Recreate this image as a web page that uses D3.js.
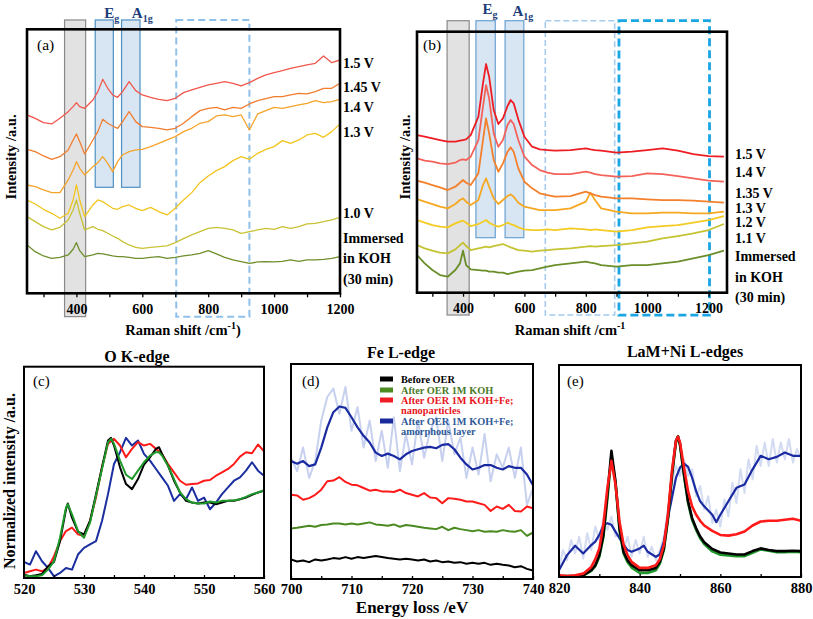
<!DOCTYPE html>
<html><head><meta charset="utf-8">
<script src="https://cdn.jsdelivr.net/npm/d3@7/dist/d3.min.js"></script>
<style>html,body{margin:0;padding:0;background:#fff}</style>
</head><body>
<svg id="chart" width="813" height="619" xmlns="http://www.w3.org/2000/svg"></svg>
<script>
const SERIF = "'Liberation Serif','Times New Roman',serif";

// ---------- Panel (a): Raman spectra ----------
const ramanXA = [250,275,300,325,350,375,390,400,410,425,450,465,480,495,510,525,540,560,580,600,625,650,675,700,725,750,775,800,825,850,875,900,925,950,975,1000,1025,1050,1075,1100,1125,1150,1175,1200];
const a_15  = [535,525,512,508,525,545,560,572,560,555,580,605,642,615,595,588,605,635,608,595,588,582,578,585,602,610,618,625,630,635,630,622,632,645,655,662,668,675,680,685,690,712,692,700];
const a_145 = [432,425,412,402,410,430,460,478,455,418,460,485,522,510,502,495,515,545,515,500,498,495,490,495,510,530,548,555,558,550,558,555,568,578,584,590,590,595,600,598,605,615,615,630];
const a_14  = [325,320,310,302,302,340,370,395,375,355,380,392,410,390,365,395,415,425,430,432,440,450,460,470,485,495,510,515,532,535,530,535,490,538,548,558,555,560,565,570,578,572,575,582];
const a_13  = [280,268,252,240,225,240,280,325,280,230,265,280,275,265,255,252,260,265,255,248,258,245,235,255,280,302,332,352,368,380,398,410,402,420,432,440,458,450,460,475,480,468,485,508];
const a_10  = [230,215,200,190,198,220,250,280,240,190,200,192,188,180,172,165,155,145,138,135,138,140,142,152,164,175,185,195,198,195,190,180,185,190,195,192,200,195,200,208,210,215,220,228];
const a_imm = [145,125,112,105,108,115,132,152,128,110,115,120,118,115,112,110,110,108,105,105,108,110,105,108,112,115,120,128,118,108,100,95,90,94,95,94,96,100,96,100,100,102,105,110];
const labelsA = ["1.5 V","1.45 V","1.4 V","1.3 V","1.0 V"];
const ticksA = [300,400,500,600,700,800,900,1000,1100,1200];
const tickLabelsA = [400,600,800,1000,1200];
// annotation bands [x0,x1] (cm-1)
const bandsA = {gray:[364,428], eg:[457,512], a1g:[537,593], dash:[703,925]};

// ---------- Panel (b): Raman spectra ----------
const ramanXB = [250,275,300,325,350,375,390,400,410,425,450,465,475,485,500,515,530,545,555,565,580,600,625,650,675,700,750,800,815,830,850,900,950,1000,1050,1100,1150,1200,1250];
const b_15  = [473,468,463,458,453,453,456,458,460,473,528,628,686,648,548,506,523,560,578,568,520,468,438,430,428,426,428,433,430,428,426,420,423,428,433,426,416,410,408];
const b_14  = [403,396,393,388,386,390,398,400,398,408,458,558,623,583,478,438,458,503,518,506,458,408,383,368,360,356,356,363,360,356,353,348,350,358,356,350,343,336,333];
const b_135 = [336,330,323,316,308,318,330,338,330,323,358,458,523,478,398,363,388,423,436,423,373,333,313,298,293,288,290,303,298,293,288,283,283,280,278,278,276,273,270];
const b_13  = [281,273,266,258,253,266,278,283,273,263,278,323,343,318,283,266,278,290,295,288,270,258,253,248,248,248,253,273,300,278,253,243,238,238,240,240,238,238,243];
const b_12  = [218,210,203,198,196,208,213,216,210,200,206,213,218,210,203,198,203,210,206,203,196,190,188,188,190,188,193,190,188,190,188,183,188,196,200,203,210,218,230];
const b_11  = [143,133,126,120,118,130,143,150,140,128,133,136,138,136,140,143,146,140,136,133,128,126,123,126,128,130,133,138,140,138,140,143,148,153,163,170,178,188,206];
const b_imm = [113,88,68,53,48,68,88,126,83,70,68,66,66,63,63,60,60,56,58,60,63,66,68,73,78,83,88,93,90,88,83,78,83,83,88,93,103,113,126];
const labelsB = ["1.5 V","1.4 V","1.35 V","1.3 V","1.2 V","1.1 V"];
const ticksB = [300,400,500,600,700,800,900,1000,1100,1200];
const tickLabelsB = [400,600,800,1000,1200];
const bandsB = {gray:[348,420], eg:[442,505], a1g:[537,598], dash1:[668,894], dash2:[908,1203]};

// ---------- Panel (c): O K-edge ----------
const c_before = [[520,10],[521,5],[522,8],[523,12],[524,35],[525,48],[526,110],[527,205],[527.3,222],[528,180],[529,138],[530,130],[531,170],[532,250],[533,330],[534,410],[534.5,418],[535,395],[536,330],[537,280],[538,265],[539,295],[540,338],[541,360],[542,385],[542.5,390],[543,370],[544,335],[545,290],[546,255],[547,230],[548,225],[549,222],[550,225],[551,225],[552,220],[553,225],[554,230],[555,230],[556,235],[557,240],[558,248],[559,255],[560,260]];
const c_koh = [[520,8],[521,5],[522,5],[523,8],[524,25],[525,50],[526,120],[527,210],[527.3,220],[528,190],[529,140],[530,120],[531,165],[532,245],[533,325],[534,405],[534.5,415],[535,400],[536,350],[537,308],[538,295],[539,320],[540,345],[541,365],[542,375],[542.5,375],[543,365],[544,335],[545,295],[546,255],[547,235],[548,225],[549,222],[550,222],[551,228],[552,225],[553,230],[554,230],[555,232],[556,235],[557,242],[558,250],[559,255],[560,262]];
const c_nano = [[520,15],[521,20],[522,25],[523,20],[524,30],[525,65],[526,110],[527,140],[528,150],[529,130],[530,125],[531,170],[532,240],[533,330],[534,400],[535,415],[536,395],[537,360],[538,385],[539,405],[540,395],[541,400],[542,385],[543,370],[544,340],[545,315],[546,290],[547,278],[548,280],[549,282],[550,290],[551,292],[552,305],[553,315],[554,325],[555,340],[556,362],[557,375],[558,372],[559,398],[560,378]];
const c_amor = [[520,48],[521,40],[522,80],[523,50],[524,30],[525,5],[526,15],[527,30],[528,25],[529,70],[530,90],[531,100],[532,110],[533,170],[534,250],[535,340],[536,375],[537,418],[538,395],[539,410],[540,370],[541,350],[542,325],[543,300],[544,275],[545,230],[546,250],[547,235],[548,270],[549,230],[550,240],[551,205],[552,225],[553,250],[554,270],[555,290],[556,300],[557,320],[558,345],[559,320],[560,305]];
const c_amorBase = [[525,0],[560,0]];
const ticksC = [520,525,530,535,540,545,550,555,560];
const tickLabelsC = [520,530,540,550,560];

// ---------- Panel (d): Fe L-edge ----------
const eelsXD = [700,701,702,703,704,705,706,707,708,709,710,711,712,713,714,715,716,717,718,719,720,721,722,723,724,725,726,727,728,729,730,731,732,733,734,735,736,737,738,739,740];
const d_amorRaw = [360,320,390,300,350,470,540,565,490,570,440,510,390,470,350,440,330,480,320,430,340,470,360,440,480,350,470,370,420,300,390,310,430,290,370,330,390,300,390,220,270];
const d_amor = [350,342,350,335,340,390,450,495,512,508,480,450,425,405,375,365,372,365,355,370,380,385,390,392,388,398,400,385,360,340,325,330,338,338,330,325,335,330,330,310,278];
const d_nano = [250,248,235,240,250,265,290,292,302,288,280,278,270,262,265,260,260,258,265,255,250,245,255,242,240,225,240,238,235,230,230,225,220,202,215,208,220,202,200,215,210];
const d_koh = [150,152,155,158,155,160,162,165,165,162,165,162,165,168,162,160,158,162,155,160,158,155,152,150,148,155,145,152,148,145,142,145,140,142,140,145,142,140,145,128,138];
const d_before = [58,52,55,50,58,55,58,62,60,65,60,65,62,65,68,65,62,60,58,60,58,55,58,52,55,50,52,48,50,45,48,45,48,42,45,42,40,35,38,30,25];
const ticksD = [700,705,710,715,720,725,730,735,740];
const tickLabelsD = [700,710,720,730,740];
const legendNames = [["Before OER"],["After OER 1M KOH"],["After OER 1M KOH+Fe;","nanoparticles"],["After OER 1M KOH+Fe;","amorphous layer"]];

// ---------- Panel (e): La M + Ni L-edges ----------
const eelsXE = [820,822,824,826,828,829,830,831,832,833,834,835,836,837,838,840,842,844,845,846,847,848,849,849.5,850,851,852,853,854,855,856,858,860,862,864,866,868,870,872,874,876,878,880];
const e_before = [3,3,3,5,20,35,65,125,245,375,285,145,75,50,35,20,20,27,45,85,175,305,405,417,395,305,225,175,145,120,103,83,73,70,67,67,77,85,80,77,77,78,77];
const e_koh = [2,2,2,4,18,32,60,118,232,360,280,140,70,44,28,12,12,20,40,80,170,300,400,418,392,300,220,170,140,115,98,76,66,64,62,62,72,82,78,74,74,75,74];
const e_nano = [5,3,5,10,30,53,85,155,265,345,275,165,97,65,45,27,27,35,53,95,185,315,405,417,400,325,255,210,185,167,153,137,125,123,127,135,153,165,167,167,170,173,167];
const e_amor = [[820,20],[822,65],[824,93],[826,70],[828,95],[829,105],[830,125],[831,153],[832,160],[833,155],[834,135],[835,115],[836,97],[837,80],[838,75],[840,85],[841,93],[842,75],[844,60],[845,67],[846,105],[847,175],[848,235],[849,295],[850,325],[851,337],[852,327],[853,295],[854,255],[855,225],[856,210],[858,185],[859,163],[860,185],[862,225],[864,265],[866,275],[868,320],[870,360],[872,350],[874,357],[876,370],[878,360],[880,360]];
const eelsXERaw = [820,821,822,823,824,825,826,827,828,829,830,831,832,833,834,835,836,837,838,839,840,841,842,843,844,845,846,847,848,849,850,851,852,853,854,855,856,857,858,859,860,861,862,863,864,865,866,867,868,869,870,871,872,873,874,875,876,877,878,879,880];
const e_amorRaw = [25,80,50,110,70,120,55,130,80,150,110,175,140,180,120,130,80,120,60,110,70,120,60,90,50,80,120,200,280,330,300,350,300,320,240,270,200,240,160,200,150,230,180,280,220,320,250,350,290,390,330,400,330,410,340,400,350,410,340,380,350];
const ticksE = [820,830,840,850,860,870,880];
const tickLabelsE = [820,840,860,880];

// ---------- layout ----------
const svg = d3.select("#chart");
svg.append("rect").attr("width",813).attr("height",619).attr("fill","#fff");

function setup(p){
  p.x = d3.scaleLinear().domain(p.xd).range([p.l,p.r]);
  p.y = d3.scaleLinear().domain(p.yd).range([p.b,p.t]);
  p.line = d3.line().x(d=>p.x(d[0])).y(d=>p.y(d[1]));
  const id = "clip" + p.id;
  svg.append("clipPath").attr("id",id).append("rect")
    .attr("x",p.l).attr("y",p.t).attr("width",p.r-p.l).attr("height",p.b-p.t);
  p.under = svg.append("g");
  p.plot = svg.append("g").attr("clip-path",`url(#${id})`);
  return p;
}
const zip = (xs, ys) => xs.map((v,i)=>[v, ys[i]]);
function curve(p, pts, color, w){
  p.plot.append("path").attr("d", p.line(pts)).attr("fill","none")
    .attr("stroke",color).attr("stroke-width",w).attr("stroke-linejoin","round");
}
function band(p, xr, y0, y1, fill, stroke, sw, dash){
  p.under.append("rect").attr("x",p.x(xr[0])).attr("width",p.x(xr[1])-p.x(xr[0]))
    .attr("y",p.y(y1)).attr("height",p.y(y0)-p.y(y1))
    .attr("fill",fill).attr("stroke",stroke).attr("stroke-width",sw)
    .attr("stroke-dasharray",dash||null);
}
function frame(p, sw){
  svg.append("rect").attr("x",p.l).attr("y",p.t).attr("width",p.r-p.l).attr("height",p.b-p.t)
    .attr("fill","none").attr("stroke","#000").attr("stroke-width",sw);
}
function xAxis(p, ticks, labeled, size, pad, fs){
  const ax = d3.axisBottom(p.x).tickValues(ticks).tickSize(size).tickPadding(pad)
    .tickFormat(d => labeled.includes(d) ? d : "");
  const g = svg.append("g").attr("transform",`translate(0,${p.b})`).call(ax)
    .attr("font-family",SERIF).attr("font-size",fs).attr("font-weight","bold");
  g.select(".domain").remove();
  g.selectAll("line").attr("stroke","#000").attr("stroke-width",1.3);
  g.selectAll("text").attr("fill","#000").attr("font-family",SERIF);
}
function txt(x, y, s, fs, opts={}){
  const t = svg.append("text").attr("x",x).attr("y",y).attr("font-family",SERIF)
    .attr("font-size",fs).attr("font-weight",opts.weight||"bold").attr("fill",opts.color||"#000")
    .attr("text-anchor",opts.anchor||"start");
  if(opts.rotate) t.attr("transform",`rotate(-90,${x},${y})`);
  t.text(s);
  return t;
}
function subLabel(x, y, main, sub){
  const t = svg.append("text").attr("x",x).attr("y",y).attr("font-family",SERIF)
    .attr("font-weight","bold").attr("fill","#1c3d7a").attr("font-size",15);
  t.append("tspan").text(main);
  t.append("tspan").attr("font-size",10).attr("dy",4).text(sub);
}
function ramanTitle(cx, y, withParen){
  const t = svg.append("text").attr("x",cx).attr("y",y).attr("font-family",SERIF)
    .attr("font-weight","bold").attr("font-size",14.5).attr("text-anchor","middle");
  t.append("tspan").text("Raman shift /cm");
  t.append("tspan").attr("font-size",10).attr("dy",-6).text("-1");
  if(withParen) t.append("tspan").attr("dy",6).text(")");
}

// ===== Panel (a) =====
const PA = setup({id:"a", l:27, r:340, t:29.3, b:293.3, xd:[250,1200], yd:[0,792]});
band(PA, bandsA.gray, -70, 820, "#e2e2e2", "#8a8a8a", 1.2);
band(PA, bandsA.eg, 318, 820, "#d8e6f4", "#4f8fc2", 1.2);
band(PA, bandsA.a1g, 318, 820, "#d8e6f4", "#4f8fc2", 1.2);
band(PA, bandsA.dash, -70, 820, "none", "#8fc0ea", 2, "7,4");
[[a_imm,"#6e8f2c"],[a_10,"#c9c234"],[a_13,"#f2c51e"],[a_14,"#f5a42a"],[a_145,"#f27d2f"],[a_15,"#f2574d"]]
  .forEach(([s,c]) => curve(PA, zip(ramanXA, s), c, 1.3));
frame(PA, 2.6);
xAxis(PA, ticksA, tickLabelsA, 4, 6.5, 14);
subLabel((PA.x(bandsA.eg[0])+PA.x(bandsA.eg[1]))/2, 18, "E", "g");
subLabel((PA.x(bandsA.a1g[0])+PA.x(bandsA.a1g[1]))/2 + 1, 18, "A", "1g");
txt(PA.l+10, 50, "(a)", 15.5, {weight:"normal"});
txt(16, 157, "Intensity /a.u.", 14.5, {anchor:"middle", rotate:true});
ramanTitle(183, 335, true);
[[labelsA[0],68],[labelsA[1],92],[labelsA[2],112],[labelsA[3],137],[labelsA[4],218],["Immersed",243],["in KOH",263],["(30 min)",284]]
  .forEach(([s,y]) => txt(PA.r+3, y, s, 14));

// ===== Panel (b) =====
const PB = setup({id:"b", l:417, r:727, t:31.7, b:292.7, xd:[250,1260], yd:[0,783]});
band(PB, bandsB.gray, -67, 816, "#e2e2e2", "#8a8a8a", 1.2);
band(PB, bandsB.eg, 165, 816, "#d8e6f4", "#6aa0cf", 1.2);
band(PB, bandsB.a1g, 165, 816, "#d8e6f4", "#6aa0cf", 1.2);
band(PB, bandsB.dash1, -67, 816, "none", "#a5cbee", 1.6, "6,3");
band(PB, bandsB.dash2, -67, 816, "none", "#1aa5e4", 2.8, "8,4");
[[b_imm,"#6a8f2a"],[b_11,"#c5c332"],[b_12,"#f3cb22"],[b_13,"#f6a823"],[b_135,"#f4802c"],[b_14,"#f4625a"],[b_15,"#ee1d23"]]
  .forEach(([s,c]) => curve(PB, zip(ramanXB, s), c, 1.8));
frame(PB, 2.6);
xAxis(PB, ticksB, tickLabelsB, 4, 6.5, 14);
subLabel((PB.x(bandsB.eg[0])+PB.x(bandsB.eg[1]))/2 - 3, 14, "E", "g");
subLabel((PB.x(bandsB.a1g[0])+PB.x(bandsB.a1g[1]))/2 - 2, 16, "A", "1g");
txt(PB.l+6, 50, "(b)", 15.5, {weight:"normal"});
txt(410, 157, "Intensity /a.u.", 14.5, {anchor:"middle", rotate:true});
ramanTitle(570, 335, false);
[[labelsB[0],159],[labelsB[1],177],[labelsB[2],198],[labelsB[3],213],[labelsB[4],227],[labelsB[5],243],["Immersed",261],["in KOH",282],["(30 min)",302]]
  .forEach(([s,y]) => txt(PB.r+8, y, s, 14));

// ===== Panel (c) =====
const PC = setup({id:"c", l:24, r:264, t:366.7, b:578, xd:[520,560], yd:[0,630]});
curve(PC, c_amorBase, "#1a2ea0", 2);
curve(PC, c_amor, "#1a2ea0", 2);
curve(PC, c_nano, "#ff1a1a", 2);
curve(PC, c_before, "#000", 2);
curve(PC, c_koh, "#1d9a2a", 2);
frame(PC, 2);
xAxis(PC, ticksC, tickLabelsC, -3, 6, 14.5);
txt(137, 362, "O K-edge", 16, {anchor:"middle"});
txt(33, 386, "(c)", 15, {weight:"normal"});
txt(15, 481, "Normalized intensity /a.u.", 16, {anchor:"middle", rotate:true});

// ===== Panel (d) =====
const PD = setup({id:"d", l:291, r:533, t:364, b:579, xd:[700,740], yd:[0,638]});
curve(PD, zip(eelsXD, d_amorRaw), "#c7d1ef", 2);
curve(PD, zip(eelsXD, d_amor), "#1a2aa0", 2.2);
curve(PD, zip(eelsXD, d_nano), "#ff1a1a", 2);
curve(PD, zip(eelsXD, d_koh), "#4a8a20", 2);
curve(PD, zip(eelsXD, d_before), "#000", 2);
frame(PD, 2);
xAxis(PD, ticksD, tickLabelsD, -3, 5, 14.5);
txt(401, 358, "Fe L-edge", 16, {anchor:"middle"});
txt(302, 386, "(d)", 15, {weight:"normal"});
txt(412, 613, "Energy loss /eV", 17, {anchor:"middle"});
const legColors = ["#000","#4c8a22","#ee1c24","#1a2a9a"];
const legText = ["#000","#4a7a28","#e8141c","#2f5a98"];
const legY = [379, 390, 400, 421];
legendNames.forEach((lines,i) => {
  svg.append("rect").attr("x",380).attr("y",legY[i]-2.5).attr("width",13).attr("height",5).attr("fill",legColors[i]);
  lines.forEach((s,j) => txt(401, legY[i]+3.8+j*10.3, s, 10.3, {color:legText[i]}));
});

// ===== Panel (e) =====
const PE = setup({id:"e", l:559, r:801, t:365, b:577, xd:[820,880], yd:[0,630]});
curve(PE, zip(eelsXERaw, e_amorRaw), "#d3dbf3", 2);
curve(PE, e_amor, "#1a2aa0", 2.2);
curve(PE, zip(eelsXE, e_koh), "#1d9a2a", 2.6);
curve(PE, zip(eelsXE, e_before), "#000", 2.6);
curve(PE, zip(eelsXE, e_nano), "#ff1a1a", 2.6);
frame(PE, 2);
xAxis(PE, ticksE, tickLabelsE, -3, 5.7, 14.5);
txt(685, 357, "LaM+Ni L-edges", 16, {anchor:"middle"});
txt(567, 386, "(e)", 15, {weight:"normal"});
</script>
</body></html>
